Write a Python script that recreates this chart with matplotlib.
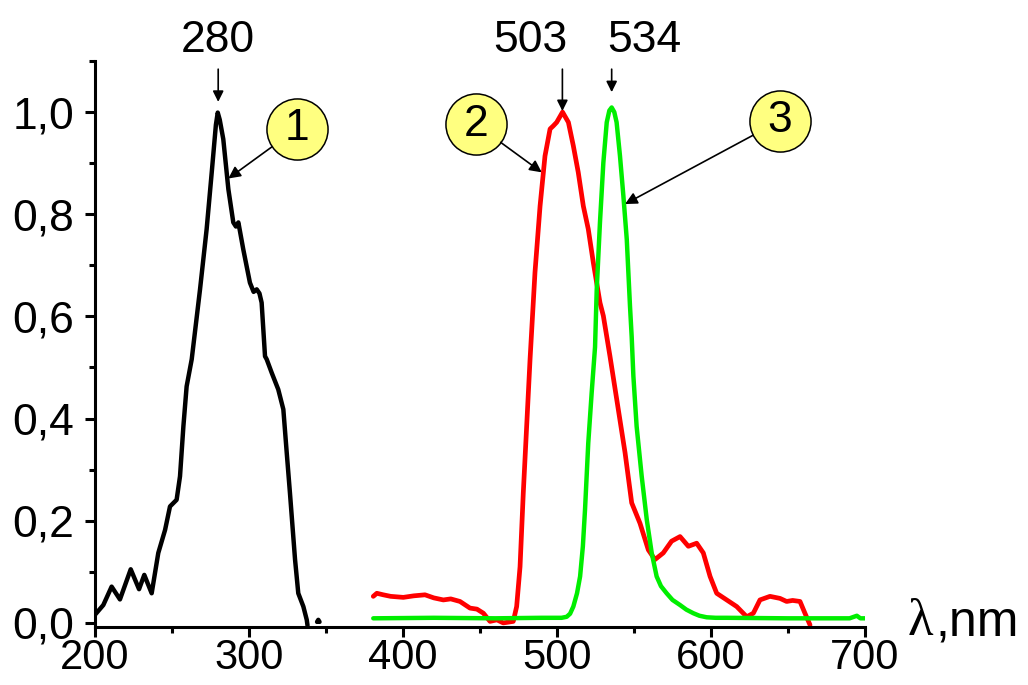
import matplotlib
matplotlib.use("Agg")
import matplotlib.pyplot as plt
import numpy as np
from matplotlib.ticker import MultipleLocator, FuncFormatter

plt.rcParams['font.family'] = ['Liberation Sans', 'DejaVu Sans']

# curve 1 (black)
wl_1 = [200, 205.4, 210.8, 216.2, 223.2, 228.6, 232, 236.8, 241.1, 245.5, 248.7,
        253, 255.2, 257.4, 259.5, 262.8, 268.2, 272.5, 275.8, 278.5, 279.7, 281,
        283.3, 286.6, 289.8, 291.5, 293.1, 296.3, 300.6, 303, 305, 306.8, 308.2,
        310.4, 311.5, 314.7, 319, 322.3, 324.5, 326.6, 329.9, 332, 335.3, 337.5, 338]
int_1 = [0.016, 0.035, 0.071, 0.046, 0.105, 0.066, 0.094, 0.058, 0.137, 0.182, 0.228,
         0.241, 0.287, 0.385, 0.463, 0.516, 0.653, 0.771, 0.882, 0.975, 0.999, 0.985,
         0.947, 0.849, 0.784, 0.776, 0.784, 0.731, 0.666, 0.648, 0.653, 0.645, 0.627,
         0.522, 0.516, 0.490, 0.457, 0.418, 0.333, 0.254, 0.124, 0.058, 0.032, 0.006,
         -0.005]
blob_x = [344.2, 345.0, 345.8]
blob_y = [0.002, 0.006, 0.002]

# curve 2 (red)
wl_2 = [380.7, 383, 387.2, 392, 400.2, 407, 414.3, 420, 426.2, 431, 437, 443.5, 448,
        452.2, 456.5, 461, 465.1, 471.6, 473.8, 476, 478.1, 480.3, 482.5, 485.7, 489,
        492.2, 495.5, 497.6, 499.8, 503.6, 507.4, 510.6, 513.8, 517.1, 520.3, 523.6,
        527.9, 530.1, 534.4, 539.8, 544.2, 548.5, 553.9, 559.3, 563.6, 569, 574.4,
        579.9, 585.3, 590.7, 595, 599.4, 603.7, 610.2, 616.7, 623.2, 627.5, 631.8,
        638.3, 644.8, 649.1, 653, 657.8, 661, 664.3]
int_2 = [0.052, 0.058, 0.055, 0.052, 0.050, 0.053, 0.055, 0.049, 0.045, 0.047, 0.042,
         0.029, 0.027, 0.019, 0.003, 0.006, 0.0, 0.003, 0.032, 0.110, 0.254, 0.385,
         0.516, 0.686, 0.816, 0.914, 0.967, 0.973, 0.980, 1.0, 0.980, 0.934, 0.882,
         0.816, 0.771, 0.705, 0.627, 0.601, 0.522, 0.418, 0.333, 0.235, 0.195, 0.143,
         0.124, 0.137, 0.160, 0.169, 0.150, 0.156, 0.137, 0.091, 0.058, 0.045, 0.032,
         0.012, 0.019, 0.045, 0.052, 0.048, 0.042, 0.044, 0.042, 0.019, -0.004]

# curve 3 (green)
wl_3 = [380.7, 420, 460, 490, 503, 506.3, 508.5, 510.6, 513, 515, 516.8, 518.2, 520.3,
        522.5, 524.7, 525.8, 527.9, 530.1, 532.3, 534, 535.5, 537.2, 538.7, 540.9,
        543.1, 545.3, 547.4, 548.5, 549.6, 551.7, 555, 558.3, 561.5, 564.7, 567.5,
        571.2, 575, 579.9, 584, 588.5, 592.5, 597.2, 603, 610.2, 650, 690, 694.7,
        697, 700]
int_3 = [0.009, 0.010, 0.009, 0.010, 0.010, 0.012, 0.018, 0.032, 0.058, 0.091, 0.150,
         0.222, 0.352, 0.450, 0.540, 0.653, 0.784, 0.901, 0.980, 1.003, 1.009, 1.0,
         0.980, 0.914, 0.836, 0.751, 0.620, 0.560, 0.483, 0.385, 0.287, 0.202, 0.137,
         0.091, 0.072, 0.058, 0.045, 0.035, 0.026, 0.019, 0.014, 0.011, 0.010, 0.010,
         0.009, 0.009, 0.014, 0.009, 0.009]

peak_labels = ["280", "503", "534"]
peak_text_x = [280, 482.5, 557]
peak_arrow_x = [280, 503.5, 535.5]
peak_arrow_y = [1.02, 1.002, 1.039]

circle_labels = ["1", "2", "3"]
circle_x = [330.9, 447.4, 644.8]
circle_y = [0.967, 0.976, 0.983]
target_x = [286.6, 490.1, 544.2]
target_y = [0.870, 0.882, 0.820]

fig = plt.figure(figsize=(10.28, 6.85), dpi=100)
ax = fig.add_axes([95 / 1028, 1 - 627 / 685, 770 / 1028, 566 / 685])

line_kw = dict(solid_joinstyle='round', solid_capstyle='round')
ax.plot(wl_1, int_1, color='black', lw=3.2, **line_kw)
ax.plot(blob_x, blob_y, color='black', lw=3.2, **line_kw)
ax.plot(wl_2, int_2, color='#ff0000', lw=3.4, **line_kw)
ax.plot(wl_3, int_3, color='#00ee00', lw=3.2, **line_kw)

ax.set_xlim(200, 700)
ax.set_ylim(-0.008, 1.1)
ax.spines['top'].set_visible(False)
ax.spines['right'].set_visible(False)
for s in ['left', 'bottom']:
    ax.spines[s].set_linewidth(2.2)

ax.xaxis.set_major_locator(MultipleLocator(100))
ax.xaxis.set_minor_locator(MultipleLocator(50))
ax.yaxis.set_major_locator(MultipleLocator(0.2))
ax.yaxis.set_minor_locator(MultipleLocator(0.1))
ax.yaxis.set_major_formatter(FuncFormatter(lambda v, p: f"{v:.1f}".replace('.', ',')))
ax.tick_params(which='major', direction='out', length=7, width=2.2, labelsize=32)
ax.tick_params(which='minor', direction='out', length=4, width=2.2)
ax.tick_params(axis='y', pad=8)
ax.tick_params(axis='x', pad=0.8, labelsize=30)

# axis label on the right
ax.text(728, -0.024, "λ", family='Liberation Serif', fontsize=38,
        ha='left', va='baseline', clip_on=False)
ax.text(745.5, -0.024, ",nm", fontsize=36, ha='left', va='baseline', clip_on=False)

# peak positions
for lab, tx, ax_x, ay in zip(peak_labels, peak_text_x, peak_arrow_x, peak_arrow_y):
    ax.text(tx, 1.118, lab, fontsize=32, ha='center', va='baseline', clip_on=False)
    ax.annotate('', xy=(ax_x, ay), xytext=(ax_x, 1.084), annotation_clip=False,
                arrowprops=dict(arrowstyle='-|>', color='black', lw=1.2,
                                mutation_scale=16, shrinkA=0, shrinkB=0))

# numbered circles
for lab, cx, cy, tx, ty in zip(circle_labels, circle_x, circle_y, target_x, target_y):
    ax.annotate('', xy=(tx, ty), xytext=(cx, cy),
                arrowprops=dict(arrowstyle='-|>', color='black', lw=1.2,
                                mutation_scale=18, shrinkA=22, shrinkB=0))
    ax.plot([cx], [cy], 'o', ms=44, mfc='#ffff80', mec='black', mew=1.1, clip_on=False)
    ax.text(cx, cy, lab, fontsize=32, ha='center', va='center')

fig.savefig("out.png", dpi=100)
